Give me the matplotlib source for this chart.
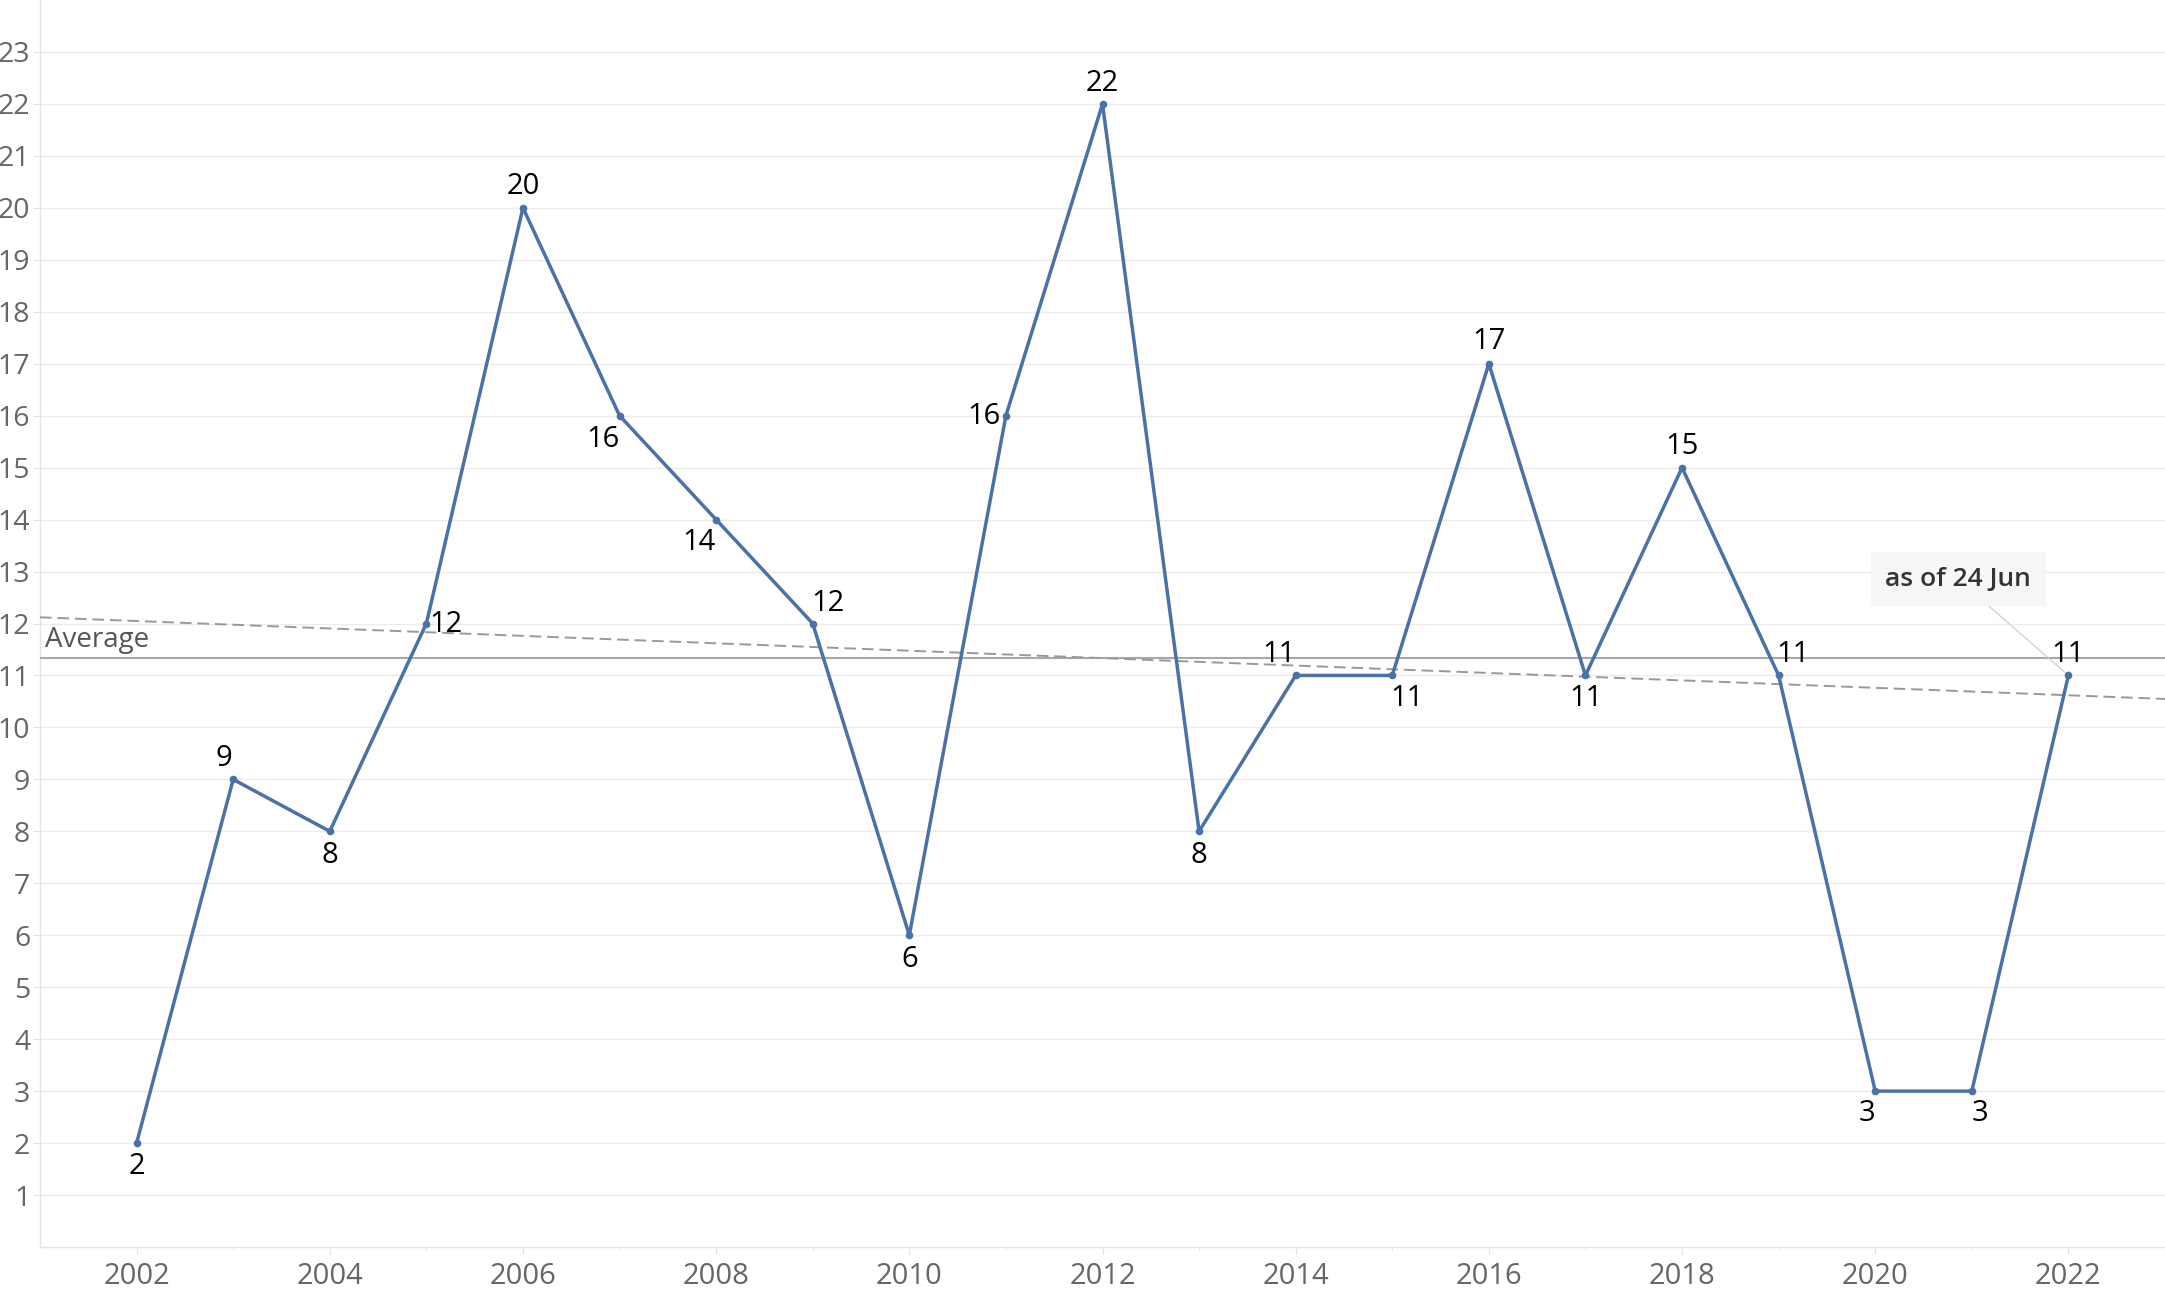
import numpy as np
import matplotlib
matplotlib.use("Agg")
import matplotlib.pyplot as plt

years = list(range(2002, 2023))
counts = [2, 9, 8, 12, 20, 16, 14, 12, 6, 16, 22, 8, 11, 11, 17, 11, 15, 11, 3, 3, 11]
note_text = "as of 24 Jun"

# label offsets in pixels (dx, dy), chosen to mimic the reference placement
label_offsets = [(0, -23), (-9, 21), (0, -24), (20, -1), (0, 21), (-17, -24), (-17, -23),
                 (15, 20), (0, -24), (-22, -1), (0, 20), (0, -24), (-17, 21), (15, -23),
                 (0, 22), (0, -23), (0, 21), (14, 21), (-8, -22), (8, -22), (0, 21)]

plt.rcParams['font.family'] = ['Open Sans', 'DejaVu Sans']

fig = plt.figure(figsize=(21.65, 12.91), dpi=100)
ax = fig.add_axes([40 / 2165, 44 / 1291, 1 - 40 / 2165, 1 - 44 / 1291])

line_color = '#4a72a6'
ax.plot(years, counts, color=line_color, lw=2.5, marker='o', ms=4.5, zorder=4)

# average reference line
avg = np.mean(counts)
ax.axhline(avg, color='#a8a8a8', lw=1.5, zorder=3)
ax.text(2001.05, avg + 0.08, 'Average', color='#555555', fontsize=20, va='bottom', ha='left')

# linear trend line
slope, intercept = np.polyfit(years, counts, 1)
xt = np.array([2001, 2023])
ax.plot(xt, slope * xt + intercept, color='#999999', lw=1.4, ls=(0, (6, 3)), zorder=3)

for x, y, (dx, dy) in zip(years, counts, label_offsets):
    ax.annotate(str(y), (x, y), xytext=(dx, dy), textcoords='offset pixels',
                ha='center', va='center', fontsize=21, color='black', zorder=5)

# note for the current (partial) year
ax.annotate(note_text, (years[-1], counts[-1]), xytext=(2020.86, 12.85),
            ha='center', va='center', fontsize=19, fontweight='semibold', color='#333333',
            bbox=dict(boxstyle='square,pad=0.55', fc='#f6f6f6', ec='none'),
            arrowprops=dict(arrowstyle='-', color='#cfcfcf', lw=0.9, shrinkA=0, shrinkB=3),
            zorder=6)

ax.set_xlim(2001, 2023)
ax.set_ylim(0, 24)
ax.set_yticks(range(1, 24))
ax.set_xticks(range(2002, 2023, 2))
ax.set_xticks(range(2003, 2023, 2), minor=True)

ax.grid(axis='y', color='#ececec', lw=1.0)
ax.set_axisbelow(True)
for side in ['top', 'right']:
    ax.spines[side].set_visible(False)
for side in ['left', 'bottom']:
    ax.spines[side].set_color('#e4e4e4')
    ax.spines[side].set_linewidth(1.0)

ax.tick_params(axis='y', length=5, color='#e4e4e4', labelsize=20.5, labelcolor='#666666', pad=2)
ax.tick_params(axis='x', which='major', length=5, color='#e4e4e4', labelsize=21,
               labelcolor='#666666', pad=6)
ax.tick_params(axis='x', which='minor', length=3, color='#e4e4e4')

fig.savefig('out.png', dpi=100)
